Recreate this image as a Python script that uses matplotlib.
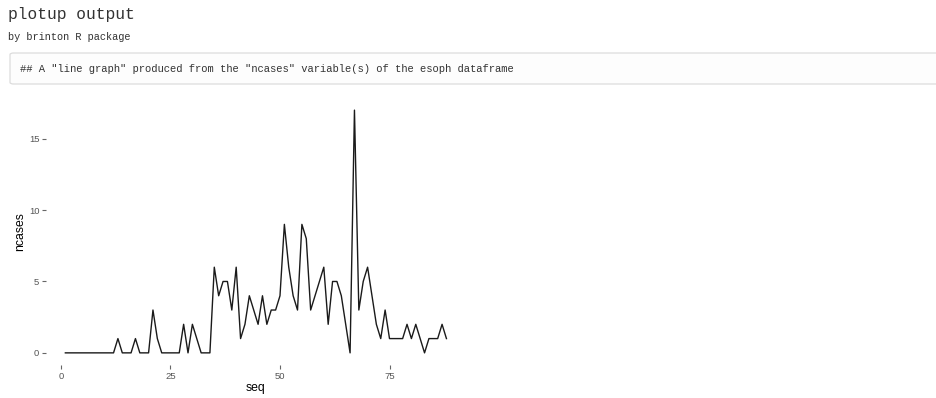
import matplotlib
matplotlib.use('Agg')
import matplotlib.pyplot as plt
from matplotlib.patches import FancyBboxPatch

# ncases column of the esoph dataframe, in row order
seq = list(range(1, 89))
ncases = [0, 0, 0, 0, 0, 0, 0, 0, 0, 0, 0, 0, 1, 0, 0,
          0, 1, 0, 0, 0, 3, 1, 0, 0, 0, 0, 0, 2, 0, 2,
          1, 0, 0, 0, 6, 4, 5, 5, 3, 6, 1, 2, 4, 3, 2, 4,
          2, 3, 3, 4, 9, 6, 4, 3, 9, 8, 3, 4, 5, 6, 2, 5,
          5, 4, 2, 0, 17, 3, 5, 6, 4, 2, 1, 3, 1, 1, 1,
          1, 2, 1, 2, 1, 0, 1, 1, 1, 2, 1]
xticks = [0, 25, 50, 75]
yticks = [0, 5, 10, 15]

mono = 'Liberation Mono'
sans = 'Liberation Sans'

fig = plt.figure(figsize=(9.36, 3.98), dpi=100)

# page header
fig.text(8 / 936, 1 - 15 / 398, 'plotup output', family=mono, fontsize=11.7,
         color='#333333', va='center', ha='left')
fig.text(8 / 936, 1 - 37 / 398, 'by brinton R package', family=mono, fontsize=7.4,
         color='#333333', va='center', ha='left')

# code output box
box = FancyBboxPatch((10 / 936, 1 - 84 / 398), 940 / 936, 31 / 398,
                     boxstyle='round,pad=0,rounding_size=0.004',
                     transform=fig.transFigure, facecolor='#fdfdfd',
                     edgecolor='#dcdcdc', linewidth=0.9, clip_on=False)
fig.patches.append(box)
fig.text(20 / 936, 1 - 69 / 398,
         '## A "line graph" produced from the "ncases" variable(s) of the esoph dataframe',
         family=mono, fontsize=7.6, color='#333333', va='center', ha='left')

# plot panel
ax = fig.add_axes([46.3 / 936, 1 - 365 / 398, 419.2 / 936, 267 / 398])
ax.plot(seq, ncases, color='#1a1a1a', linewidth=1.0)

rng = max(seq) - min(seq)
ax.set_xlim(min(seq) - 0.05 * rng, max(seq) + 0.05 * rng)
ax.set_ylim(-0.05 * max(ncases), max(ncases) * 1.05)
ax.set_xticks(xticks)
ax.set_yticks(yticks)

for s in ax.spines.values():
    s.set_visible(False)
ax.tick_params(axis='both', length=3, width=0.8, color='#666666',
               labelcolor='#555555', labelsize=6.8, pad=2)
for lab in ax.get_xticklabels() + ax.get_yticklabels():
    lab.set_family(sans)

ax.set_xlabel('seq', family=sans, fontsize=8.8, color='black', labelpad=1)
ax.set_ylabel('ncases', family=sans, fontsize=8.8, color='black', labelpad=2)

plt.savefig('out.png', dpi=100)
